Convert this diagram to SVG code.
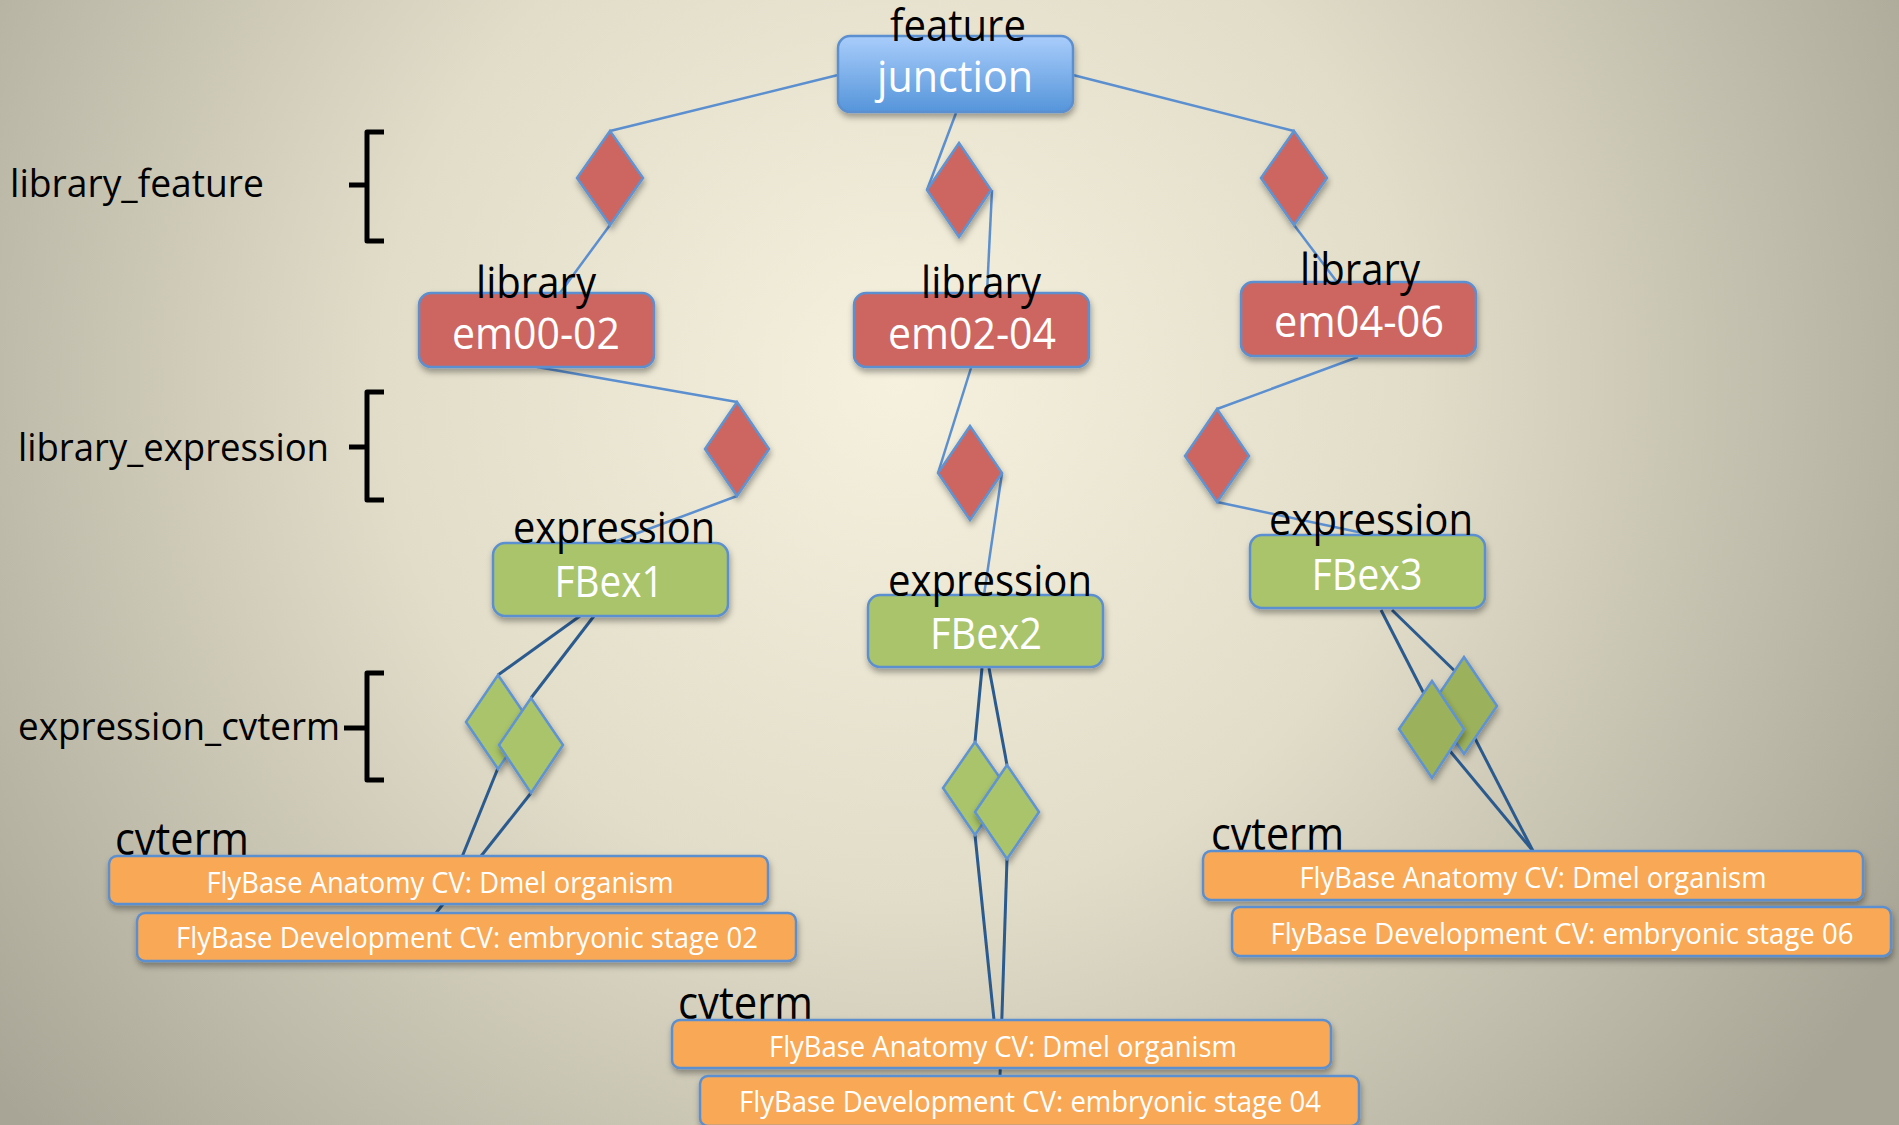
<svg xmlns="http://www.w3.org/2000/svg" width="1899" height="1125" viewBox="0 0 1899 1125">
<defs>
<radialGradient id="bg" gradientUnits="userSpaceOnUse" cx="900" cy="380" r="1150">
<stop offset="0" stop-color="#f6f1de"/>
<stop offset="0.45" stop-color="#e2ddc9"/>
<stop offset="1" stop-color="#a8a596"/>
</radialGradient>
<linearGradient id="blue" x1="0" y1="0" x2="0" y2="1">
<stop offset="0" stop-color="#a9cdfb"/>
<stop offset="1" stop-color="#5595da"/>
</linearGradient>
<filter id="sh" x="-10%" y="-20%" width="120%" height="150%">
<feDropShadow dx="1" dy="4" stdDeviation="3" flood-color="#000" flood-opacity="0.35"/>
</filter>
</defs>
<style>
text{font-family:"Open Sans","Noto Sans",sans-serif}
.lbl{fill:#000;font-size:39px}
.big{font-size:43px;text-anchor:middle}
.blk{fill:#000}
.wht{fill:#fff}
.box{stroke:#5b8fd0;stroke-width:2.5}
.red{fill:#cd6560}
.grn{fill:#a9c46b}
.grn2{fill:#9bb15c}
.org{fill:#f9a855}
.dia{stroke:#5f93d2;stroke-width:2.5;filter:url(#sh)}
.cv{fill:#fff;font-size:29px;text-anchor:middle}
.brace{fill:none;stroke:#000;stroke-width:5;stroke-linejoin:round}
.c1{stroke:#5b8fd0;stroke-width:2.5;fill:none}
.c2{stroke:#2b5a8e;stroke-width:3;fill:none}
</style>
<rect x="0" y="0" width="1899" height="1125" fill="url(#bg)"/>

<g id="labels">
<text class="lbl" x="10" y="197" textLength="254" lengthAdjust="spacingAndGlyphs">library_feature</text>
<text class="lbl" x="18" y="461" textLength="311" lengthAdjust="spacingAndGlyphs">library_expression</text>
<text class="lbl" x="18" y="740" textLength="322" lengthAdjust="spacingAndGlyphs">expression_cvterm</text>
<path class="brace" d="M384,132 H367 V185 H349 M367,185 V241 H384"/>
<path class="brace" d="M384,392 H367 V447 H349 M367,447 V500 H384"/>
<path class="brace" d="M384,673 H367 V728 H344 M367,728 V780 H384"/>
</g>

<g id="connectors">
<line class="c1" x1="838" y1="75" x2="610" y2="131"/>
<line class="c1" x1="610" y1="225" x2="560" y2="293"/>
<line class="c1" x1="956" y1="113" x2="927" y2="190"/>
<line class="c1" x1="992" y1="190" x2="987" y2="293"/>
<line class="c1" x1="1073" y1="75" x2="1294" y2="131"/>
<line class="c1" x1="1294" y1="225" x2="1337" y2="282"/>
<line class="c1" x1="537" y1="367" x2="737" y2="402"/>
<line class="c1" x1="737" y1="496" x2="611" y2="543"/>
<line class="c1" x1="971" y1="368" x2="938" y2="473"/>
<line class="c1" x1="1002" y1="473" x2="984" y2="595"/>
<line class="c1" x1="1358" y1="357" x2="1217" y2="409"/>
<line class="c1" x1="1217" y1="502" x2="1372" y2="535"/>
<line class="c2" x1="580" y1="616" x2="498" y2="675"/>
<line class="c2" x1="594" y1="616" x2="531" y2="698"/>
<line class="c2" x1="498" y1="768" x2="462" y2="857"/>
<line class="c2" x1="531" y1="793" x2="436" y2="913"/>
<line class="c2" x1="982" y1="668" x2="975" y2="742"/>
<line class="c2" x1="989" y1="668" x2="1007" y2="765"/>
<line class="c2" x1="975" y1="835" x2="994" y2="1020"/>
<line class="c2" x1="1007" y1="859" x2="1000" y2="1076"/>
<line class="c2" x1="1381" y1="610" x2="1440" y2="725"/>
<line class="c2" x1="1435" y1="733" x2="1533" y2="851"/>
<line class="c2" x1="1392" y1="610" x2="1464" y2="680"/>
<line class="c2" x1="1466" y1="721" x2="1533" y2="851"/>
</g>

<g id="lf1"><path class="dia red" d="M610,131 L643,178 L610,225 L577,178 Z"/></g>
<g id="lf2"><path class="dia red" d="M959,143 L991,190 L959,237 L927,190 Z"/></g>
<g id="lf3"><path class="dia red" d="M1294,131 L1327,178 L1294,225 L1261,178 Z"/></g>
<g id="le1"><path class="dia red" d="M737,402 L769,449 L737,496 L705,449 Z"/></g>
<g id="le2"><path class="dia red" d="M970,426 L1002,473 L970,520 L938,473 Z"/></g>
<g id="le3"><path class="dia red" d="M1217,409 L1249,456 L1217,502 L1185,456 Z"/></g>

<g id="ec1a"><path class="dia grn" d="M498,675 L530,722 L498,769 L466,722 Z"/></g>
<g id="ec1b"><path class="dia grn" d="M531,698 L563,745 L531,793 L499,745 Z"/></g>
<g id="ec2a"><path class="dia grn" d="M975,742 L1007,788 L975,835 L943,788 Z"/></g>
<g id="ec2b"><path class="dia grn" d="M1007,765 L1039,812 L1007,859 L975,812 Z"/></g>
<g id="ec3b"><path class="dia grn2" d="M1464,657 L1497,706 L1464,754 L1431,706 Z"/></g>
<g id="ec3a"><path class="dia grn2" d="M1432,681 L1464,729 L1432,778 L1399,729 Z"/></g>

<g id="junction">
<rect class="box" x="838" y="36" width="235" height="76" rx="12" fill="url(#blue)" filter="url(#sh)"/>
<text class="big blk" x="958" y="41" textLength="136" lengthAdjust="spacingAndGlyphs">feature</text>
<text class="big wht" x="955" y="92" font-size="45" textLength="156" lengthAdjust="spacingAndGlyphs">junction</text>
</g>

<g id="lib1">
<rect class="box red" x="419" y="293" width="235" height="74" rx="12" filter="url(#sh)"/>
<text class="big blk" x="536" y="298" textLength="120" lengthAdjust="spacingAndGlyphs">library</text>
<text class="big wht" x="536" y="349" textLength="168" lengthAdjust="spacingAndGlyphs">em00-02</text>
</g>
<g id="lib2">
<rect class="box red" x="854" y="293" width="235" height="74" rx="12" filter="url(#sh)"/>
<text class="big blk" x="981" y="298" textLength="120" lengthAdjust="spacingAndGlyphs">library</text>
<text class="big wht" x="972" y="349" textLength="168" lengthAdjust="spacingAndGlyphs">em02-04</text>
</g>
<g id="lib3">
<rect class="box red" x="1241" y="282" width="235" height="74" rx="12" filter="url(#sh)"/>
<text class="big blk" x="1360" y="285" textLength="120" lengthAdjust="spacingAndGlyphs">library</text>
<text class="big wht" x="1359" y="337" textLength="170" lengthAdjust="spacingAndGlyphs">em04-06</text>
</g>

<g id="fbex1">
<rect class="box grn" x="493" y="543" width="235" height="73" rx="12" filter="url(#sh)"/>
<text class="big blk" x="614" y="543" textLength="202" lengthAdjust="spacingAndGlyphs">expression</text>
<text class="big wht" x="609" y="597" textLength="109" lengthAdjust="spacingAndGlyphs">FBex1</text>
</g>
<g id="fbex2">
<rect class="box grn" x="868" y="595" width="235" height="72" rx="12" filter="url(#sh)"/>
<text class="big blk" x="990" y="596" textLength="204" lengthAdjust="spacingAndGlyphs">expression</text>
<text class="big wht" x="986" y="649" textLength="112" lengthAdjust="spacingAndGlyphs">FBex2</text>
</g>
<g id="fbex3">
<rect class="box grn" x="1250" y="535" width="235" height="73" rx="12" filter="url(#sh)"/>
<text class="big blk" x="1371" y="535" textLength="204" lengthAdjust="spacingAndGlyphs">expression</text>
<text class="big wht" x="1367" y="590" textLength="111" lengthAdjust="spacingAndGlyphs">FBex3</text>
</g>

<g id="cv1">
<text class="blk" x="115" y="855" font-size="45" textLength="134" lengthAdjust="spacingAndGlyphs">cvterm</text>
<rect class="box org" x="109" y="856" width="659" height="48" rx="8" filter="url(#sh)"/>
<text class="cv" x="440" y="893" textLength="467" lengthAdjust="spacingAndGlyphs">FlyBase Anatomy CV: Dmel organism</text>
<rect class="box org" x="137" y="913" width="659" height="48" rx="8" filter="url(#sh)"/>
<text class="cv" x="467" y="948" textLength="582" lengthAdjust="spacingAndGlyphs">FlyBase Development CV: embryonic stage 02</text>
</g>
<g id="cv2">
<text class="blk" x="678" y="1019" font-size="45" textLength="135" lengthAdjust="spacingAndGlyphs">cvterm</text>
<rect class="box org" x="672" y="1020" width="659" height="48" rx="8" filter="url(#sh)"/>
<text class="cv" x="1003" y="1057" textLength="468" lengthAdjust="spacingAndGlyphs">FlyBase Anatomy CV: Dmel organism</text>
<rect class="box org" x="700" y="1076" width="659" height="50" rx="8" filter="url(#sh)"/>
<text class="cv" x="1030" y="1112" textLength="582" lengthAdjust="spacingAndGlyphs">FlyBase Development CV: embryonic stage 04</text>
</g>
<g id="cv3">
<text class="blk" x="1211" y="850" font-size="45" textLength="133" lengthAdjust="spacingAndGlyphs">cvterm</text>
<rect class="box org" x="1203" y="851" width="660" height="49" rx="8" filter="url(#sh)"/>
<text class="cv" x="1533" y="888" textLength="467" lengthAdjust="spacingAndGlyphs">FlyBase Anatomy CV: Dmel organism</text>
<rect class="box org" x="1232" y="907" width="659" height="49" rx="8" filter="url(#sh)"/>
<text class="cv" x="1562" y="944" textLength="583" lengthAdjust="spacingAndGlyphs">FlyBase Development CV: embryonic stage 06</text>
</g>
</svg>
